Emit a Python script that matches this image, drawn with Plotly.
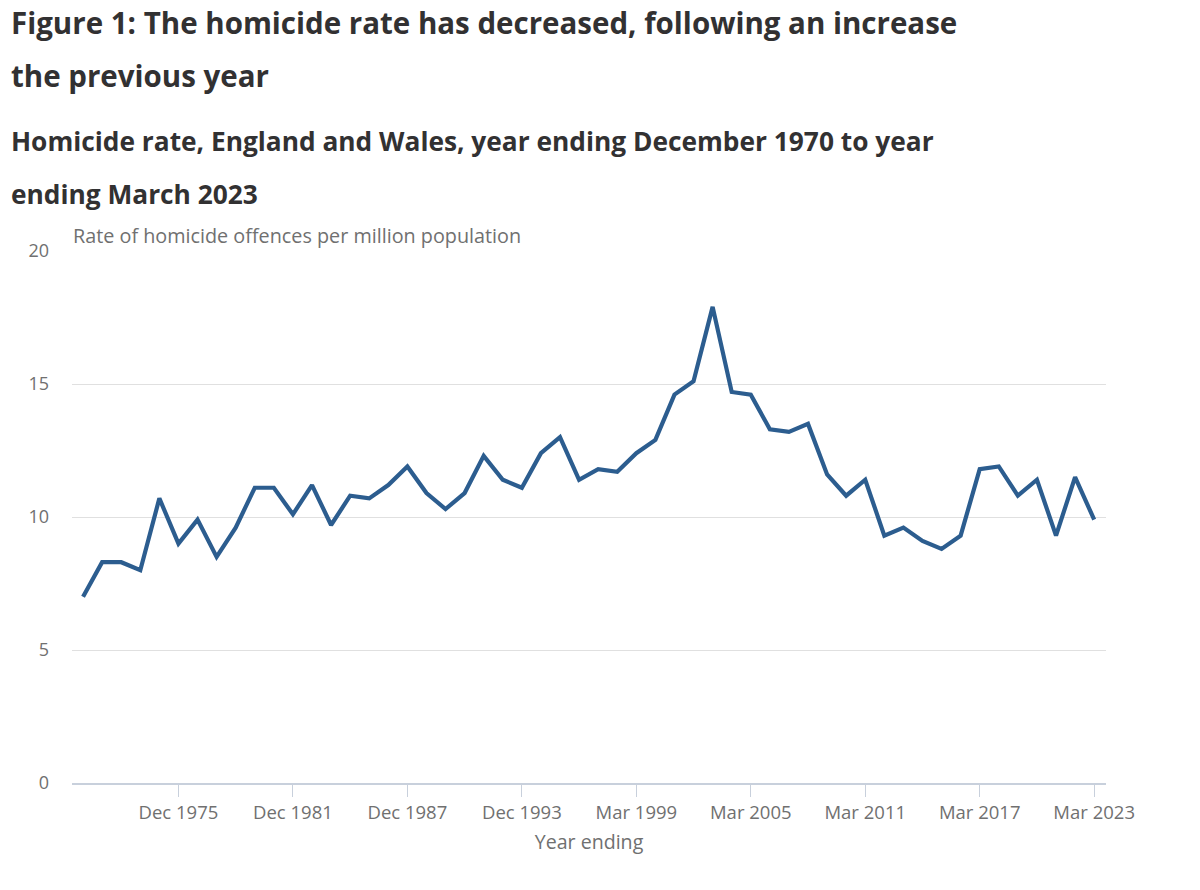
import plotly.graph_objects as go

# Year-ending labels: calendar years to Dec 1997, then financial years to Mar
years_dec = [f"Dec {y}" for y in range(1970, 1998)]
years_mar = [f"Mar {y}" for y in range(1998, 2024)]
periods = years_dec + years_mar

# Homicide offences per million population
rate = [
    7.0, 8.3, 8.3, 8.0, 10.7, 9.0, 9.9, 8.5, 9.6, 11.1,
    11.1, 10.1, 11.2, 9.7, 10.8, 10.7, 11.2, 11.9, 10.9, 10.3,
    10.9, 12.3, 11.4, 11.1, 12.4, 13.0, 11.4, 11.8, 11.7, 12.4,
    12.9, 14.6, 15.1, 17.9, 14.7, 14.6, 13.3, 13.2, 13.5, 11.6,
    10.8, 11.4, 9.3, 9.6, 9.1, 8.8, 9.3, 11.8, 11.9, 10.8,
    11.4, 9.3, 11.5, 9.9,
]

tick_labels = ["Dec 1975", "Dec 1981", "Dec 1987", "Dec 1993", "Mar 1999",
               "Mar 2005", "Mar 2011", "Mar 2017", "Mar 2023"]
y_ticks = [0, 5, 10, 15, 20]

W, H = 1200, 890
L, R, T, B = 72, 94, 251, 107
ph = H - T - B
pw = W - L - R


def py(ypix):
    # pixel row -> paper y
    return (H - B - ypix) / ph


def px(xpix):
    return (xpix - L) / pw


fig = go.Figure()

fig.add_trace(go.Scatter(
    x=periods, y=rate,
    mode="lines",
    line=dict(color="#2c5d8f", width=4.2),
    hovertemplate="%{x}: %{y}<extra></extra>",
    showlegend=False,
))

title_font = dict(family="Open Sans", size=29.5, color="#323132")
sub_font = dict(family="Open Sans", size=26.3, color="#323132")

annots = [
    ("<b>Figure 1: The homicide rate has decreased, following an increase</b>", 22, title_font),
    ("<b>the previous year</b>", 75, title_font),
    ("<b>Homicide rate, England and Wales, year ending December 1970 to year</b>", 141, sub_font),
    ("<b>ending March 2023</b>", 194, sub_font),
]
for txt, yp, f in annots:
    fig.add_annotation(
        text=txt, xref="paper", yref="paper",
        x=px(10), y=py(yp), xanchor="left", yanchor="middle",
        showarrow=False, font=f, borderpad=0,
    )

fig.add_annotation(
    text="Rate of homicide offences per million population",
    xref="paper", yref="paper", x=px(71), y=py(236),
    xanchor="left", yanchor="middle", showarrow=False,
    font=dict(family="Open Sans", size=19.8, color="#707070"),
)

fig.update_layout(
    width=W, height=H,
    margin=dict(l=L, r=R, t=T, b=B),
    plot_bgcolor="white",
    paper_bgcolor="white",
    font=dict(family="Open Sans", color="#707070", size=18),
    xaxis=dict(
        type="category",
        categoryorder="array", categoryarray=periods,
        range=[-0.58, 53.62],
        tickvals=tick_labels, ticktext=tick_labels,
        showgrid=False, zeroline=False,
        showline=True, linecolor="#c8d0dc", linewidth=2,
        ticks="outside", ticklen=12, tickcolor="#c8d0dc", tickwidth=1,
        tickfont=dict(size=18.5, color="#707070"),
        title=dict(text="Year ending", font=dict(size=19.6, color="#707070"), standoff=12),
    ),
    yaxis=dict(
        range=[0, 20],
        tickvals=y_ticks,
        showgrid=True, gridcolor="#e0e0e0", gridwidth=1,
        zeroline=False, showline=False,
        ticks="", ticklabelstandoff=22,
        tickfont=dict(size=18, color="#707070"),
    ),
)

# drop the browser's default body margin so the figure sits at the page corner
fig.write_html(
    "out.html",
    config={"displayModeBar": False},
    post_script="document.body.style.margin = '0';",
)
